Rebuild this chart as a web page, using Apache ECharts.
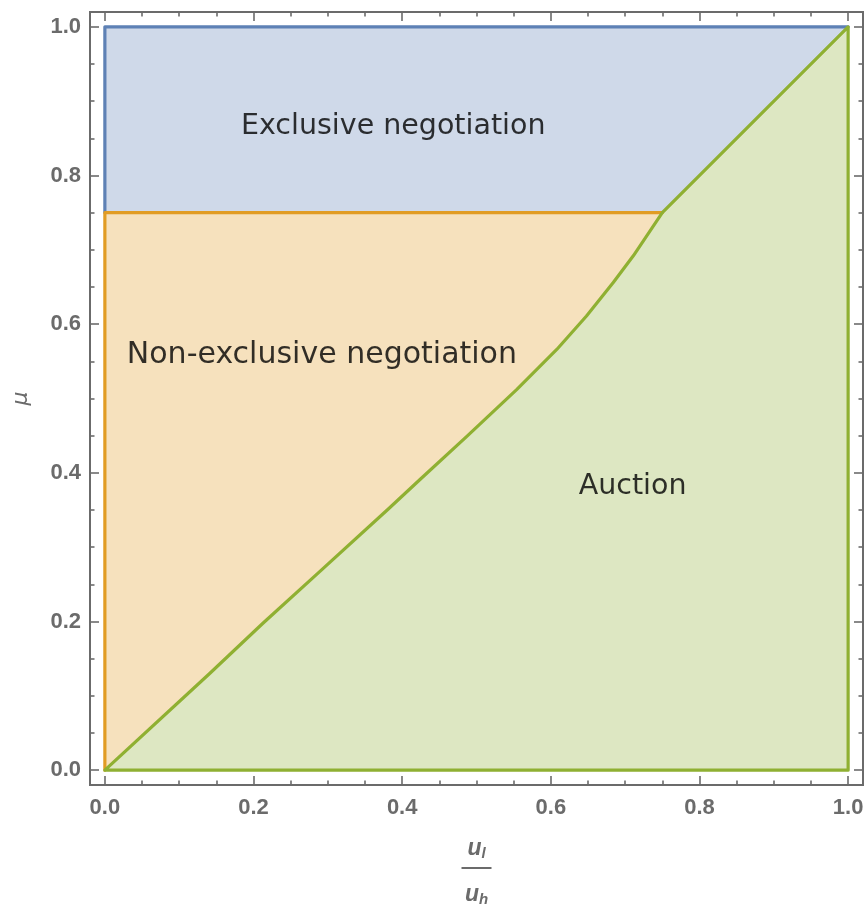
<!DOCTYPE html>
<html>
<head>
<meta charset="utf-8">
<script src="https://cdn.jsdelivr.net/npm/echarts@6/dist/echarts.min.js"></script>
<style>
  html, body { margin: 0; padding: 0; background: #ffffff; }
  #chart { width: 866px; height: 907px; }
</style>
</head>
<body>
<div id="chart"></div>
<script>
// ---- data ----
const curveX  = [0, 0.141, 0.213, 0.289, 0.381, 0.424, 0.487, 0.554, 0.608, 0.648, 0.684, 0.711, 0.75];
const curveMu = [0, 0.130, 0.198, 0.267, 0.351, 0.391, 0.449, 0.512, 0.566, 0.611, 0.656, 0.692, 0.75];
const threshold = 0.75;
const axisLow = 0, axisHigh = 1;
const majorTicks = [0, 0.2, 0.4, 0.6, 0.8, 1.0];
const minorTicks = [0.05, 0.1, 0.15, 0.25, 0.3, 0.35, 0.45, 0.5, 0.55, 0.65, 0.7, 0.75, 0.85, 0.9, 0.95];
const regionNames = ['Exclusive negotiation', 'Non-exclusive negotiation', 'Auction'];
const labelX  = [0.388, 0.292, 0.710];
const labelMu = [0.866, 0.558, 0.382];

// ---- derived geometry ----
const curvePts = curveX.map((x, i) => [x, curveMu[i]]);
const bluePoly = [[axisLow, threshold], [threshold, threshold], [axisHigh, axisHigh], [axisLow, axisHigh]];
const orangePoly = curvePts.concat([[axisLow, threshold]]);
const greenPoly = curvePts.concat([[axisHigh, axisHigh], [axisHigh, axisLow]]);

const blueLine = [[axisLow, threshold], [axisLow, axisHigh], [axisHigh, axisHigh]];
const orangeLine = [[axisLow, axisLow], [axisLow, threshold], [threshold, threshold]];
const greenLine = curvePts.concat([[axisHigh, axisHigh], [axisHigh, axisLow], [axisLow, axisLow]]);

const C_BLUE = '#5E81B5', C_ORANGE = '#E19C24', C_GREEN = '#8FB032';
const F_BLUE = 'rgb(207,217,233)', F_ORANGE = 'rgb(246,225,189)', F_GREEN = 'rgb(221,231,194)';
const AX = '#6b6b6b';
const RANGE_MIN = -0.02, RANGE_MAX = 1.02;
const LABEL_SIZE = { 'Non-exclusive negotiation': 30 };

function polySeries(name, poly, fill) {
  return {
    type: 'custom', name: name, xAxisIndex: 0, yAxisIndex: 0, silent: true,
    data: poly,
    renderItem: function (params, api) {
      if (params.dataIndex !== 0) return null;
      return {
        type: 'polygon',
        shape: { points: poly.map(p => api.coord(p)) },
        style: { fill: fill, stroke: null }
      };
    },
    z: 1
  };
}
function lineSeries(name, pts, color) {
  return {
    type: 'line', name: name, xAxisIndex: 0, yAxisIndex: 0, silent: true,
    data: pts, symbol: 'none', smooth: false,
    lineStyle: { color: color, width: 3.2, join: 'round', cap: 'round' }, z: 3
  };
}

function makeAxis(dir, position, ticks, len, withLabels) {
  const ax = {
    type: 'value', position: position, min: RANGE_MIN, max: RANGE_MAX,
    axisLine: { show: false, onZero: false },
    splitLine: { show: false },
    axisTick: { show: true, inside: true, length: len, customValues: ticks, lineStyle: { color: AX, width: 1.6 } },
    axisLabel: { show: false }
  };
  if (withLabels) {
    ax.axisLabel = {
      show: true, customValues: ticks, color: AX,
      fontFamily: 'Liberation Sans', fontWeight: 'bold', fontSize: 22,
      margin: dir === 'x' ? 12 : 9,
      formatter: v => v.toFixed(1)
    };
  }
  return ax;
}

const xAxes = [
  makeAxis('x', 'bottom', majorTicks, 9, true),
  makeAxis('x', 'bottom', minorTicks, 4.5, false),
  makeAxis('x', 'top', majorTicks, 9, false),
  makeAxis('x', 'top', minorTicks, 4.5, false)
];
const uStyle = { fontFamily: 'Liberation Sans', fontWeight: 'bold', fontStyle: 'italic', fontSize: 23, color: AX, verticalAlign: 'middle' };
const subStyle = { fontFamily: 'Liberation Sans', fontWeight: 'bold', fontStyle: 'italic', fontSize: 15, color: AX, verticalAlign: 'middle', padding: [9, 0, 0, 0] };
xAxes[0].name = '{u|u}{sub|l}\n{bar| }\n{u2|u}{sub2|h}';
xAxes[0].nameLocation = 'middle';
xAxes[0].nameGap = 52;
xAxes[0].nameTextStyle = {
  rich: {
    u:    Object.assign({}, uStyle, { lineHeight: 24 }),
    sub:  Object.assign({}, subStyle, { lineHeight: 24 }),
    bar:  { width: 30, height: 2, fontSize: 2, lineHeight: 14, backgroundColor: AX },
    u2:   Object.assign({}, uStyle, { lineHeight: 40 }),
    sub2: Object.assign({}, subStyle, { lineHeight: 40 })
  }
};

const yAxes = [
  makeAxis('y', 'left', majorTicks, 9, true),
  makeAxis('y', 'left', minorTicks, 4.5, false),
  makeAxis('y', 'right', majorTicks, 9, false),
  makeAxis('y', 'right', minorTicks, 4.5, false)
];
yAxes[0].name = 'μ';
yAxes[0].nameLocation = 'middle';
yAxes[0].nameRotate = 90;
yAxes[0].nameGap = 58;
yAxes[0].nameTextStyle = { fontFamily: 'DejaVu Sans', fontStyle: 'italic', fontSize: 22, color: AX };

const chart = echarts.init(document.getElementById('chart'), null, { renderer: 'canvas' });
chart.setOption({
  animation: false,
  backgroundColor: '#ffffff',
  grid: {
    left: 90, right: 3, top: 12, bottom: 122,
    outerBoundsMode: 'none', containLabel: false,
    show: true, borderColor: AX, borderWidth: 2, backgroundColor: 'transparent'
  },
  xAxis: xAxes,
  yAxis: yAxes,
  series: [
    polySeries('Exclusive negotiation', bluePoly, F_BLUE),
    polySeries('Non-exclusive negotiation', orangePoly, F_ORANGE),
    polySeries('Auction', greenPoly, F_GREEN),
    lineSeries('Exclusive border', blueLine, C_BLUE),
    lineSeries('Non-exclusive border', orangeLine, C_ORANGE),
    lineSeries('Auction border', greenLine, C_GREEN),
    {
      type: 'scatter', name: 'labels', silent: true,
      data: regionNames.map((n, i) => ({
        name: n, value: [labelX[i], labelMu[i]],
        label: { fontSize: LABEL_SIZE[n] || 28.5 }
      })),
      symbol: 'circle', symbolSize: 1,
      itemStyle: { color: 'rgba(0,0,0,0)' },
      label: {
        show: true, position: 'inside', formatter: p => p.name,
        fontFamily: 'DejaVu Sans', fontSize: 28.5, color: '#000000',
        textBorderWidth: 0
      },
      z: 5
    }
  ]
});
</script>
</body>
</html>
